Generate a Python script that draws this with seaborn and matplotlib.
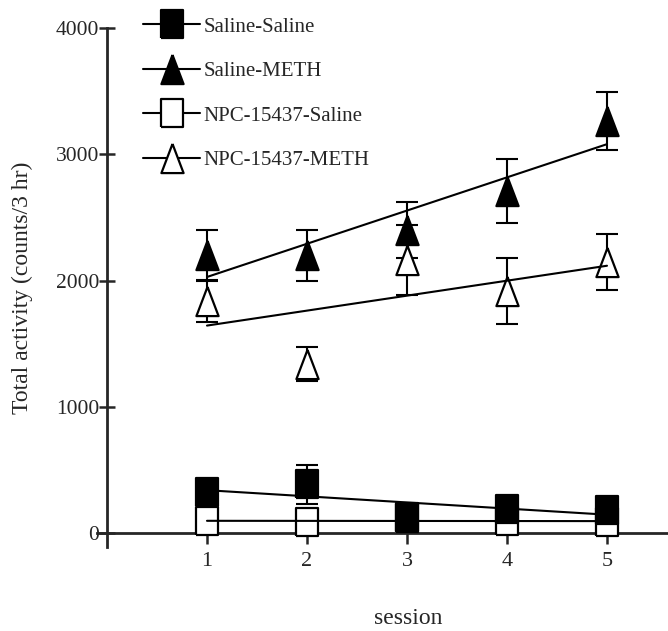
import numpy as np
import matplotlib
matplotlib.use("Agg")
import matplotlib.pyplot as plt
from matplotlib.lines import Line2D
import seaborn as sns

# values (means and error bar half-lengths)
sessions = [1, 2, 3, 4, 5]
saline_saline = [325, 385, 130, 190, 180]
saline_saline_err = [60, 155, 40, 50, 50]
saline_meth = [2200, 2200, 2400, 2710, 3260]
saline_meth_err = [200, 200, 220, 255, 230]
npc_saline = [92, 90, 115, 92, 88]
npc_saline_err = [25, 30, 20, 25, 20]
npc_meth = [1840, 1340, 2160, 1915, 2145]
npc_meth_err = [165, 135, 278, 260, 220]

group_names = ["Saline-Saline", "Saline-METH", "NPC-15437-Saline", "NPC-15437-METH"]
y_ticks = [0, 1000, 2000, 3000, 4000]

# the scanned symbols are a bit taller than wide
sq = [(-0.78, -1), (0.78, -1), (0.78, 1), (-0.78, 1), (-0.78, -1)]
tri = [(0, 1), (-0.76, -1), (0.76, -1), (0, 1)]

sns.set_style("ticks")
plt.rcParams["font.family"] = ["Liberation Serif", "DejaVu Serif"]

fig = plt.figure(figsize=(6.68, 6.31), dpi=100)
ax = fig.add_axes([0.1452, 0.1333, 0.8548, 0.8223])

# open symbols first, filled ones drawn over them
series = [
    (npc_saline, npc_saline_err, sq, "white", 19.5, 3),
    (npc_meth, npc_meth_err, tri, "white", 21, 3),
    (saline_saline, saline_saline_err, sq, "black", 19.5, 4),
    (saline_meth, saline_meth_err, tri, "black", 21, 4),
]
for vals, err, mk, face, ms, z in series:
    ax.errorbar(sessions, vals, yerr=err, fmt="none", ecolor="black",
                elinewidth=1.5, capsize=8, capthick=1.5, zorder=2)
    sns.regplot(x=sessions, y=vals, ci=None, marker=mk, color="black", ax=ax,
                scatter_kws=dict(s=ms ** 2, facecolors=face, edgecolors="black",
                                 linewidths=1.6, alpha=1, zorder=z),
                line_kws=dict(lw=1.5, zorder=5))

ax.set_xlim(-0.1, 5.61)
ax.set_ylim(-110, 4000)
ax.set_xticks(sessions)
ax.set_yticks(y_ticks)
ax.spines["left"].set_position(("data", 0))
ax.spines["bottom"].set_position(("data", 0))
ax.spines["top"].set_visible(False)
ax.spines["right"].set_visible(False)
for s in ["left", "bottom"]:
    ax.spines[s].set_linewidth(2)
ax.tick_params(axis="x", direction="out", length=8, width=1.8, pad=6, labelsize=16)
ax.tick_params(axis="y", direction="inout", length=11, width=1.8, pad=0.3, labelsize=15.5)

ax.set_xlabel("session", fontsize=17)
ax.set_ylabel("Total activity (counts/3 hr)", fontsize=17)
ax.xaxis.set_label_coords(0.5447, -0.118)
ax.yaxis.set_label_coords(-0.112, 0.499)

handles = [
    Line2D([], [], color="black", lw=1.5, marker=sq, ms=19.5, mfc="black", mec="black", mew=1.6),
    Line2D([], [], color="black", lw=1.5, marker=tri, ms=21, mfc="black", mec="black", mew=1.6),
    Line2D([], [], color="black", lw=1.5, marker=sq, ms=19.5, mfc="white", mec="black", mew=1.6),
    Line2D([], [], color="black", lw=1.5, marker=tri, ms=21, mfc="white", mec="black", mew=1.6),
]
ax.legend(handles, group_names, loc="upper left", bbox_to_anchor=(143 / 668, 1 - 17 / 631),
          bbox_transform=fig.transFigure, frameon=False, fontsize=15, borderpad=0,
          borderaxespad=0, handlelength=2.75, handletextpad=0.15, labelspacing=1.2)

fig.savefig("out.png", dpi=100)
